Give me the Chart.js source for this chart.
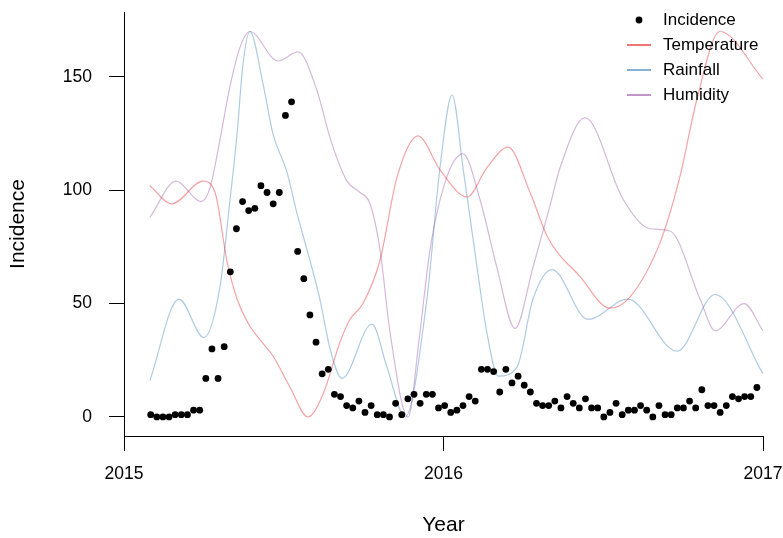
<!DOCTYPE html>
<html>
<head>
<meta charset="utf-8">
<script src="https://cdn.jsdelivr.net/npm/chart.js@4.4.0/dist/chart.umd.min.js"></script>
<style>
  html, body { margin: 0; padding: 0; background: #fff; }
</style>
</head>
<body>
<canvas id="chart" width="783" height="538"></canvas>
<script>
        // Weekly incidence, first week ends ~31 Jan 2015
        const firstWeek = 2015.0836;
        const incidence = [
            1, 0, 0, 0, 1, 1, 1, 3, 3, 17,
            30, 17, 31, 64, 83, 95, 91, 92, 102, 99,
            94, 99, 133, 139, 73, 61, 45, 33, 19, 21,
            10, 9, 5, 4, 7, 2, 5, 1, 1, 0,
            6, 1, 8, 10, 6, 10, 10, 4, 5, 2,
            3, 5, 9, 7, 21, 21, 20, 11, 21, 15,
            18, 14, 11, 6, 5, 5, 7, 4, 9, 6,
            4, 8, 4, 4, 0, 2, 6, 1, 3, 3,
            5, 3, 0, 5, 1, 1, 4, 4, 7, 4,
            12, 5, 5, 2, 5, 9, 8, 9, 9, 13
        ];

        // Smoothed covariates (scaled), read at their turning points
        const tempYear = [2015.081, 2015.150, 2015.247, 2015.285, 2015.322, 2015.354, 2015.394, 2015.426, 2015.466, 2015.520,
                          2015.576, 2015.623, 2015.676, 2015.707, 2015.748, 2015.801, 2015.855, 2015.920, 2015.989, 2016.074,
                          2016.136, 2016.202, 2016.271, 2016.327, 2016.427, 2016.521, 2016.584, 2016.678, 2016.740, 2016.793,
                          2016.865, 2017.000];
        const tempValue = [102, 94, 104, 99, 69, 52, 40, 34, 27, 13,
                           0, 10, 33, 43, 50, 69, 106, 124, 109, 97,
                           110, 119, 99, 79, 62, 48, 53, 77, 106, 140,
                           170, 149];

        const rainYear = [2015.081, 2015.172, 2015.250, 2015.300, 2015.332, 2015.354, 2015.372, 2015.394, 2015.435, 2015.466,
                          2015.510, 2015.541, 2015.582, 2015.613, 2015.645, 2015.682, 2015.776, 2015.823, 2015.880, 2015.948,
                          2015.989, 2016.027, 2016.061, 2016.105, 2016.136, 2016.171, 2016.230, 2016.280, 2016.340, 2016.452,
                          2016.577, 2016.731, 2016.850, 2017.000];
        const rainValue = [16, 52, 35, 57, 96, 125, 155, 170, 147, 125,
                           108, 90, 69, 52, 30, 17, 41, 22, 0, 52,
                           110, 142, 110, 66, 37, 18, 22, 52, 65, 43,
                           52, 29, 54, 19];

        const humYear = [2015.081, 2015.163, 2015.241, 2015.269, 2015.300, 2015.332, 2015.363, 2015.394, 2015.482, 2015.545,
                         2015.604, 2015.645, 2015.698, 2015.739, 2015.770, 2015.801, 2015.833, 2015.889, 2015.926, 2015.958,
                         2016.011, 2016.061, 2016.114, 2016.167, 2016.224, 2016.280, 2016.333, 2016.365, 2016.443, 2016.562,
                         2016.646, 2016.709, 2016.803, 2016.850, 2016.941, 2017.000];
        const humValue = [88, 104, 95, 101, 122, 146, 163, 170, 157, 161,
                          144, 123, 104, 99, 94, 74, 37, 0, 37, 74,
                          106, 116, 96, 66, 39, 66, 93, 110, 132, 96,
                          83, 82, 52, 38, 50, 38];

        const xTicks = [2015, 2016, 2017];
        const yTicks = [0, 50, 100, 150];

        const legendItems = [
            { label: 'Incidence', kind: 'point', color: '#000000' },
            { label: 'Temperature', kind: 'line', color: 'rgba(228, 26, 28, 0.6)' },
            { label: 'Rainfall', kind: 'line', color: 'rgba(55, 126, 184, 0.6)' },
            { label: 'Humidity', kind: 'line', color: 'rgba(152, 78, 163, 0.6)' }
        ];

        const toPoints = (xs, ys) => xs.map((x, i) => ({ x: x, y: ys[i] }));

        // R-style legend in the top right corner, no box
        const cornerLegend = {
            id: 'cornerLegend',
            afterDraw(chart) {
                const ctx = chart.ctx;
                ctx.save();
                ctx.font = '17px "Liberation Sans", Arial, sans-serif';
                ctx.textBaseline = 'middle';
                ctx.textAlign = 'left';
                legendItems.forEach((item, i) => {
                    const y = 20 + i * 25;
                    if (item.kind === 'point') {
                        ctx.fillStyle = item.color;
                        ctx.beginPath();
                        ctx.arc(639, y, 3.4, 0, Math.PI * 2);
                        ctx.fill();
                    } else {
                        ctx.strokeStyle = item.color;
                        ctx.lineWidth = 2;
                        ctx.beginPath();
                        ctx.moveTo(627, y);
                        ctx.lineTo(651, y);
                        ctx.stroke();
                    }
                    ctx.fillStyle = '#000';
                    ctx.fillText(item.label, 663, y);
                });
                ctx.restore();
            }
        };

        Chart.defaults.font.family = '"Liberation Sans", Arial, Helvetica, sans-serif';
        Chart.defaults.color = '#000';

        const lineStyle = {
            type: 'line',
            borderWidth: 1.2,
            pointRadius: 0,
            fill: false,
            cubicInterpolationMode: 'monotone'
        };

        const axisGrid = { drawOnChartArea: false, drawTicks: true, tickLength: 15, color: '#000', lineWidth: 1 };
        const axisBorder = { display: true, color: '#000', width: 1 };

        // keep the plot box fixed: no extra room for overhanging tick labels
        const noScalePadding = s => { s.paddingTop = 0; s.paddingBottom = 0; s.paddingLeft = 0; s.paddingRight = 0; };

        new Chart(document.getElementById('chart'), {
            type: 'scatter',
            data: {
                datasets: [
                    {
                        label: 'Incidence',
                        data: incidence.map((v, i) => ({ x: firstWeek + i * 7 / 365.25, y: v })),
                        backgroundColor: '#000',
                        borderWidth: 0,
                        pointRadius: 3.4
                    },
                    Object.assign({ label: 'Temperature', data: toPoints(tempYear, tempValue), borderColor: 'rgba(228, 26, 28, 0.4)' }, lineStyle),
                    Object.assign({ label: 'Rainfall', data: toPoints(rainYear, rainValue), borderColor: 'rgba(55, 126, 184, 0.4)' }, lineStyle),
                    Object.assign({ label: 'Humidity', data: toPoints(humYear, humValue), borderColor: 'rgba(152, 78, 163, 0.4)' }, lineStyle)
                ]
            },
            options: {
                responsive: false,
                animation: false,
                layout: { padding: { top: 12, right: 20, bottom: 0, left: 0 } },
                plugins: {
                    legend: { display: false },
                    tooltip: { enabled: false }
                },
                scales: {
                    x: {
                        type: 'linear',
                        min: 2015,
                        max: 2017,
                        afterBuildTicks: s => { s.ticks = xTicks.map(v => ({ value: v })); },
                        afterFit: s => { s.height = 102; noScalePadding(s); },
                        grid: axisGrid,
                        border: axisBorder,
                        ticks: { padding: 13, maxRotation: 0, font: { size: 17.5 }, callback: v => String(v) },
                        title: { display: true, text: 'Year', font: { size: 21 }, padding: { top: 0, bottom: 0 } }
                    },
                    y: {
                        type: 'linear',
                        min: -8.4,
                        max: 178.6,
                        afterBuildTicks: s => { s.ticks = yTicks.map(v => ({ value: v })); },
                        afterFit: s => { s.width = 124; noScalePadding(s); },
                        grid: axisGrid,
                        border: axisBorder,
                        ticks: { padding: 17, font: { size: 17.5 }, callback: v => String(v) },
                        title: { display: true, text: 'Incidence', font: { size: 21 }, padding: { top: 6, bottom: 0 } }
                    }
                }
            },
            plugins: [cornerLegend]
        });
</script>
</body>
</html>
